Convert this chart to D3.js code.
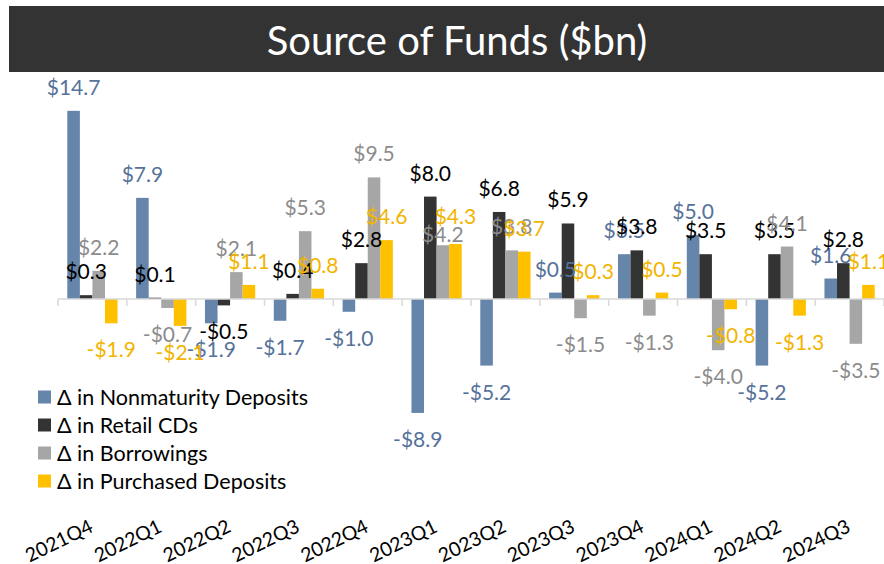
<!DOCTYPE html>
<html>
<head>
<meta charset="utf-8">
<script src="https://cdn.jsdelivr.net/npm/d3@7"></script>
<style>
  body { margin: 0; background: #fff; }
  text { font-family: Lato, "Open Sans", sans-serif; }
</style>
</head>
<body>
<svg id="chart"></svg>
<script>
// quarters on the x axis
const quarters = ['2021Q4', '2022Q1', '2022Q2', '2022Q3', '2022Q4', '2023Q1',
  '2023Q2', '2023Q3', '2023Q4', '2024Q1', '2024Q2', '2024Q3']

// change in $bn per quarter, one array per series
const nonmaturity = [14.7, 7.9, -1.9, -1.7, -1.0, -8.9, -5.2, 0.5, 3.5, 5.0, -5.2, 1.6]
const retailCDs = [0.3, 0.1, -0.5, 0.4, 2.8, 8.0, 6.8, 5.9, 3.8, 3.5, 3.5, 2.8]
const borrowings = [2.2, -0.7, 2.1, 5.3, 9.5, 4.2, 3.8, -1.5, -1.3, -4.0, 4.1, -3.5]
const purchased = [-1.9, -2.1, 1.1, 0.8, 4.6, 4.3, 3.7, 0.3, 0.5, -0.8, -1.3, 1.1]

const seriesNames = ['Δ in Nonmaturity Deposits', 'Δ in Retail CDs', 'Δ in Borrowings', 'Δ in Purchased Deposits']
const barColors = ['#6585ab', '#333333', '#a6a6a6', '#ffc000']
const labelColors = ['#56729a', '#000000', '#8c8c8c', '#f2b400']

// a couple of labels were dragged by hand in the original (series index + quarter -> px)
const labelNudge = {'2-2023Q1': 13, '3-2023Q1': -4}

const series = [nonmaturity, retailCDs, borrowings, purchased].map((vals, i) => ({
  name: seriesNames[i], bar: barColors[i], label: labelColors[i],
  values: vals.map((v, j) => ({q: quarters[j], v}))
}))

const W = 884, H = 564
const svg = d3.select('#chart').attr('width', W).attr('height', H)

// title banner
svg.append('rect').attr('x', 9).attr('y', 6).attr('width', W - 9).attr('height', 66).attr('fill', '#333333')
svg.append('text').attr('x', 457).attr('y', 41).attr('dy', '0.35em')
  .attr('text-anchor', 'middle').attr('fill', '#fff').attr('font-size', 40)
  .text('Source of Funds ($bn)')

// scales
const base = 299, perUnit = 12.8
const x0 = d3.scaleBand().domain(quarters).range([58, 884]).paddingInner(0.27).paddingOuter(0.135)
const x1 = d3.scaleBand().domain(d3.range(series.length)).range([0, x0.bandwidth()])
const y = d3.scaleLinear().domain([-9, 15]).range([base + 9 * perUnit, base - 15 * perUnit])

// bars
series.forEach((s, i) => {
  svg.append('g').selectAll('rect').data(s.values).join('rect')
    .attr('x', d => x0(d.q) + x1(i))
    .attr('width', x1.bandwidth())
    .attr('y', d => y(Math.max(0, d.v)))
    .attr('height', d => Math.abs(y(d.v) - y(0)))
    .attr('fill', s.bar)
})

// category axis: line at zero, ticks between categories
const axis = svg.append('g').attr('stroke', '#d9d9d9').attr('stroke-width', 1.5)
axis.append('line').attr('x1', x0.range()[0]).attr('x2', x0.range()[1]).attr('y1', y(0)).attr('y2', y(0))
axis.selectAll('.tick').data(d3.range(quarters.length + 1)).join('line')
  .attr('x1', i => x0.range()[0] + i * x0.step()).attr('x2', i => x0.range()[0] + i * x0.step())
  .attr('y1', y(0)).attr('y2', y(0) + 7)

// data labels, drawn after all bars so later series sit on top
series.forEach((s, i) => {
  svg.append('g').selectAll('text').data(s.values).join('text')
    .attr('x', d => x0(d.q) + x1(i) + x1.bandwidth() / 2)
    .attr('y', d => (d.v >= 0 ? y(d.v) - 16 : y(d.v) + 34) + (labelNudge[i + '-' + d.q] || 0))
    .attr('text-anchor', 'middle').attr('font-size', 21).attr('fill', s.label)
    .text(d => (d.v < 0 ? '-$' : '$') + Math.abs(d.v).toFixed(1))
})

// x labels
svg.append('g').selectAll('text').data(quarters).join('text')
  .attr('transform', d => `translate(${x0(d) + x0.bandwidth() / 2 + 2},531) rotate(-26)`)
  .attr('text-anchor', 'end').attr('font-size', 19.5).attr('fill', '#000')
  .text(d => d)

// legend
const legend = svg.append('g').selectAll('g').data(series).join('g')
  .attr('transform', (d, i) => `translate(38,${397 + i * 28})`)
legend.append('rect').attr('y', -6.5).attr('width', 13).attr('height', 13).attr('fill', d => d.bar)
legend.append('text').attr('x', 19).attr('dy', '0.36em').attr('font-size', 21.5).attr('fill', '#000')
  .text(d => d.name)
</script>
</body>
</html>
